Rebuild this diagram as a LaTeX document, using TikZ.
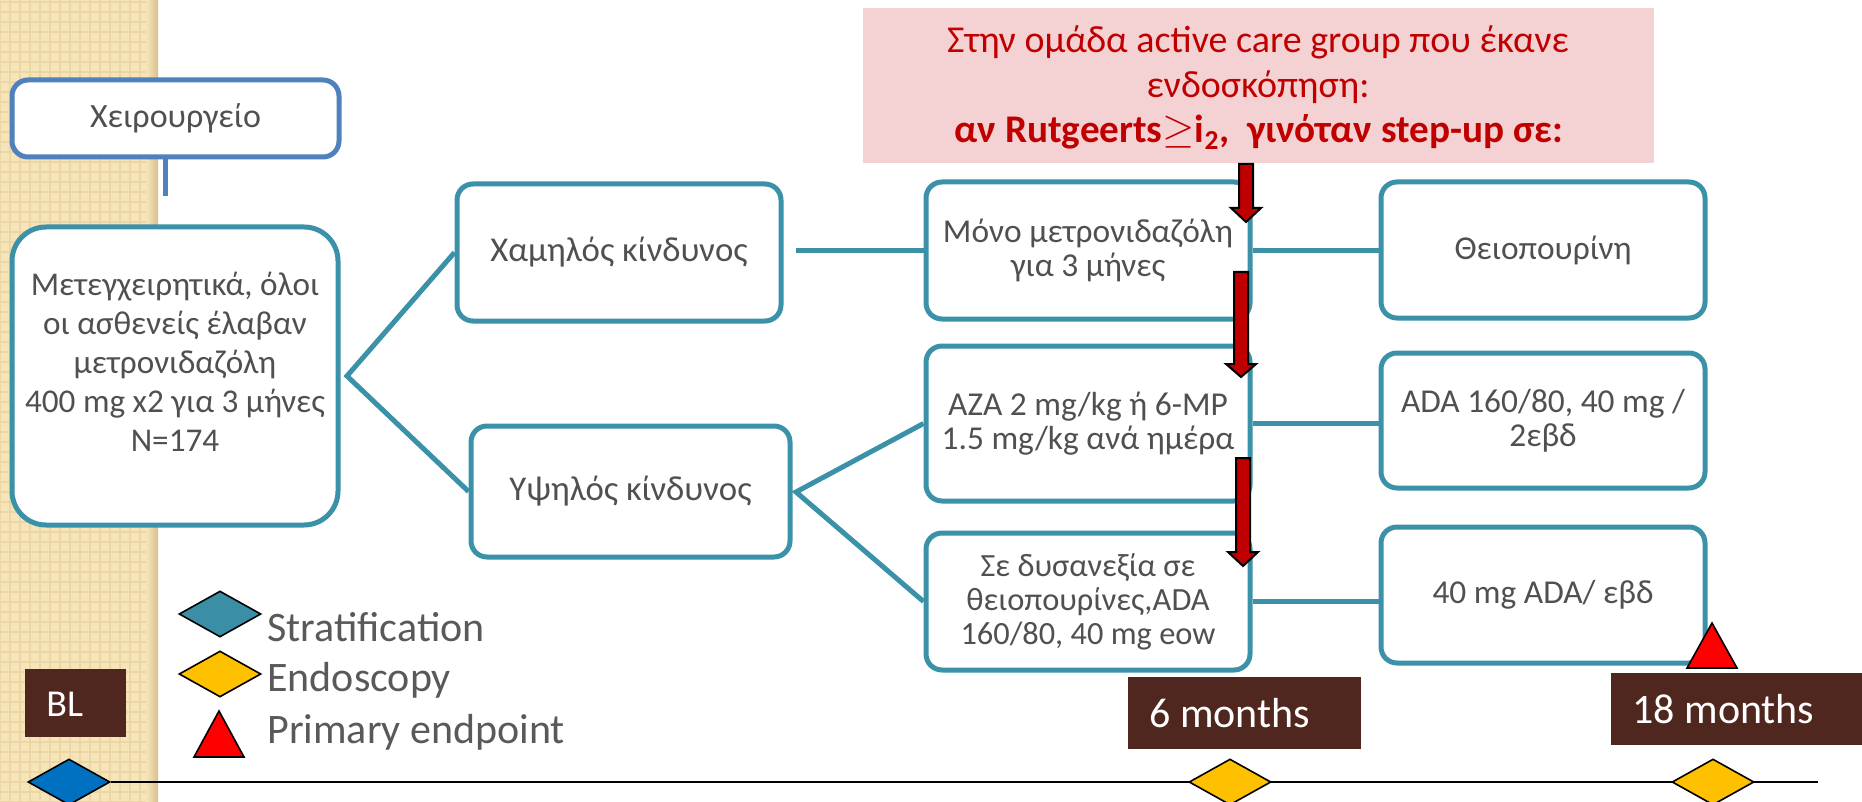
\documentclass[tikz,border=0pt]{standalone}
\usepackage{fontspec}
\setmainfont{Carlito}
\usetikzlibrary{shapes.geometric,fit,patterns.meta,calc}
\definecolor{teal1}{RGB}{59,145,168}
\definecolor{blue1}{RGB}{79,129,189}
\definecolor{txtgray}{RGB}{80,80,80}
\definecolor{legray}{RGB}{89,89,89}
\definecolor{darkred}{RGB}{192,0,0}
\definecolor{pink1}{RGB}{244,210,211}
\definecolor{brown1}{RGB}{80,39,31}
\definecolor{beige}{RGB}{247,229,186}
\definecolor{beige2}{RGB}{236,214,165}
\definecolor{beige3}{RGB}{215,192,140}
\definecolor{diablue}{RGB}{0,112,192}
\definecolor{diateal}{RGB}{58,143,167}
\definecolor{diayel}{RGB}{255,192,0}
\tikzset{
 box/.style={draw=teal1, line width=2.5pt, rounded corners=8pt, fill=white, inner sep=0pt},
 bt/.style={align=center, text=txtgray, inner sep=0pt, font=\fontsize{16.7}{17}\selectfont},
 conn/.style={draw=teal1, line width=2.5pt},
 tag/.style={fill=brown1, inner sep=0pt},
 tagtext/.style={text=white, font=\fontsize{21}{25}\selectfont, anchor=base west, inner sep=0pt},
 legtext/.style={text=legray, font=\fontsize{21}{25}\selectfont, anchor=base west, inner sep=0pt},
 pinktext/.style={text=darkred, font=\fontsize{19}{22}\selectfont, anchor=base, inner sep=0pt, text height=13pt, text depth=4pt},
 dia/.style={diamond, draw=black, line width=0.8pt, minimum width=41pt, minimum height=23pt, inner sep=0pt},
 tri/.style={draw=black, line width=0.8pt, fill=red},
 redar/.style={draw=black, line width=1pt, fill=darkred},
}
\newcommand\redarr[4]{% x, ytop, yhead, ytip
 \draw[redar] (#1-7,#2) -- (#1+7,#2) -- (#1+7,#3) -- (#1+15,#3) -- (#1,#4) -- (#1-15,#3) -- (#1-7,#3) -- cycle;}
\begin{document}
\begin{tikzpicture}[x=0.5pt,y=-0.5pt]
\useasboundingbox (0,0) rectangle (1862,802);
% left strip
\fill[beige] (0,0) rectangle (158,802);
\fill[pattern={Hatch[angle=0,distance=5pt,line width=0.7pt]}, pattern color=beige2] (0,0) rectangle (150,802);
\shade[left color=beige, right color=beige3] (146,0) rectangle (158,802);

% pink note
\node[fill=pink1, inner sep=0pt, fit={(863,8)(1654,163)}] (pink) {};
\node[pinktext] (pinkT1) at (1258,53) {Στην ομάδα active care group που έκανε};
\node[pinktext] (pinkT2) at (1258,98) {ενδοσκόπηση:};
\node[pinktext, font=\fontsize{19.6}{22}\selectfont] (pinkT3) at (1259,143) {\textbf{αν Rutgeerts}$\geq$\textbf{i\textsubscript{2},\ \ γινόταν step-up σε:}};

% boxes
\node[box, draw=blue1, fit={(12,80)(339,157)}] (surg) {};
\node[bt, font=\fontsize{17}{17}\selectfont] (surgT) at (surg.center) {Χειρουργείο};
\node[box, rounded corners=17pt, fit={(12,227)(338,525)}] (main) {};
\node[bt, font=\fontsize{16.6}{19.5}\selectfont] (mainT) at (175,362)
 {Μετεγχειρητικά, όλοι\\οι ασθενείς έλαβαν\\μετρονιδαζόλη\\400 mg x2 για 3 μήνες\\N=174};
\node[box, fit={(457,184)(781,321)}] (low) {};
\node[bt, font=\fontsize{17.4}{17}\selectfont] (lowT) at (low.center) {Χαμηλός κίνδυνος};
\node[box, fit={(471,426)(790,557)}] (high) {};
\node[bt, font=\fontsize{17.4}{17}\selectfont] (highT) at (high.center) {Υψηλός κίνδυνος};
\node[box, fit={(926,182)(1250,319)}] (mono) {};
\node[bt] (monoT) at (mono.center) {Μόνο μετρονιδαζόλη\\για 3 μήνες};
\node[box, fit={(926,346)(1250,501)}] (aza) {};
\node[bt] (azaT) at (aza.center) {AZA 2 mg/kg ή 6-MP\\1.5 mg/kg ανά ημέρα};
\node[box, fit={(926,533)(1250,670)}] (dys) {};
\node[bt, font=\fontsize{16.2}{17}\selectfont] (dysT) at (dys.center) {Σε δυσανεξία σε\\θειοπουρίνες,ADA\\160/80, 40 mg eow};
\node[box, fit={(1381,182)(1705,318)}] (thio) {};
\node[bt] (thioT) at (thio.center) {Θειοπουρίνη};
\node[box, fit={(1381,353)(1705,488)}] (ada) {};
\node[bt] (adaT) at (ada.center) {ADA 160/80, 40 mg /\\2εβδ};
\node[box, fit={(1381,527)(1705,663)}] (ada40) {};
\node[bt] (ada40T) at (ada40.center) {40 mg ADA/ εβδ};

% connectors
\coordinate (surgEnd) at (165,196);
\draw[blue1, line width=2.5pt] (surg.south -| surgEnd) -- (surgEnd);
\coordinate (s1) at (347,376);
\draw[conn] (low.west) -- (s1) -- (high.west);
\draw[conn] ([xshift=6pt]low.east |- mono.west) -- (mono.west);
\coordinate (s2) at (796,492);
\draw[conn] (aza.west) -- (s2) -- (dys.west);
\draw[conn] (mono.east) -- (mono.east -| thio.west);
\draw[conn] (aza.east) -- (aza.east -| ada.west);
\draw[conn] (dys.east) -- (dys.east -| ada40.west);

% red step-up arrows
\redarr{1246}{164}{208}{222}
\redarr{1241}{272}{364}{377}
\redarr{1243}{458}{552}{566}

% primary endpoint triangle
\draw[tri] (1687,668) -- (1737,668) -- (1712,623) -- cycle;

% legend
\node[dia, fill=diateal] (lg1) at (220,614) {};
\node[dia, fill=diayel] (lg2) at (220,674) {};
\draw[tri] (194,757) -- (244,757) -- (219,711) -- cycle;
\node[legtext] (lgT1) at (267,641) {Stratification};
\node[legtext] (lgT2) at (267,691) {Endoscopy};
\node[legtext] (lgT3) at (267,743) {Primary endpoint};

% time tags
\node[tag, fit={(25,669)(126,737)}] (bl) {};
\node[tagtext, font=\fontsize{19}{22}\selectfont] (blT) at (46,716) {BL};
\node[tag, fit={(1128,677)(1361,749)}] (m6) {};
\node[tagtext] (m6T) at (1149,727) {6 months};
\node[tag, fit={(1611,673)(1862,745)}] (m18) {};
\node[tagtext] (m18T) at (1632,723) {18 months};

% timeline
\node[dia, fill=diablue] (t0) at (69,782) {};
\coordinate (tend) at (1818,782);
\draw[line width=1pt] (t0.east) -- (tend);
\node[dia, fill=diayel] (t6) at (1230,782) {};
\node[dia, fill=diayel] (t18) at (1713,782) {};
\end{tikzpicture}
\end{document}
